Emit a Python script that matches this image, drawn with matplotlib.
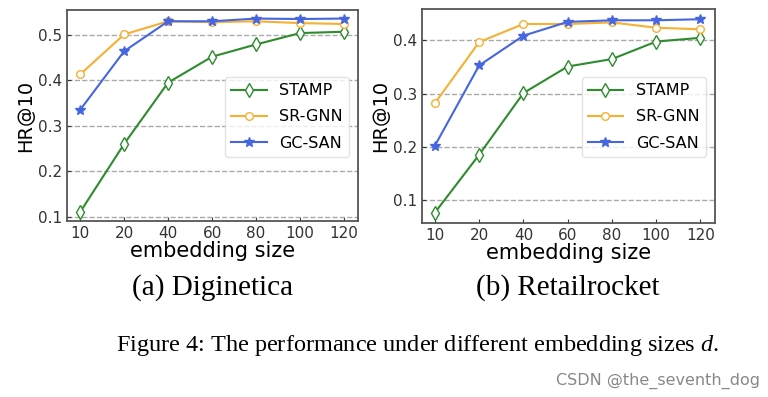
import numpy as np
import matplotlib.pyplot as plt

plt.rcParams['mathtext.fontset'] = 'custom'
plt.rcParams['mathtext.it'] = 'Liberation Serif:italic'
plt.rcParams['mathtext.rm'] = 'Liberation Serif'

sizes = ['10', '20', '40', '60', '80', '100', '120']

digi_stamp = [0.110, 0.260, 0.395, 0.452, 0.479, 0.504, 0.507]
digi_srgnn = [0.413, 0.501, 0.530, 0.528, 0.530, 0.526, 0.524]
digi_gcsan = [0.335, 0.464, 0.530, 0.530, 0.536, 0.535, 0.536]

retail_stamp = [0.076, 0.185, 0.301, 0.351, 0.365, 0.398, 0.405]
retail_srgnn = [0.282, 0.397, 0.431, 0.431, 0.434, 0.424, 0.421]
retail_gcsan = [0.202, 0.353, 0.409, 0.435, 0.438, 0.438, 0.440]

panels = [
    ([0.0872, 0.443, 0.379, 0.532], digi_stamp, digi_srgnn, digi_gcsan,
     (0.09, 0.555), [0.1, 0.2, 0.3, 0.4, 0.5]),
    ([0.549, 0.439, 0.3815, 0.538], retail_stamp, retail_srgnn, retail_gcsan,
     (0.057, 0.459), [0.1, 0.2, 0.3, 0.4]),
]
captions = ['(a) Diginetica', '(b) Retailrocket']

fig = plt.figure(figsize=(7.68, 3.97), dpi=100)
x = np.arange(len(sizes))
text_c = '#333333'

for (pos, stamp, srgnn, gcsan, ylim, yt), cap in zip(panels, captions):
    ax = fig.add_axes(pos)
    ax.plot(x, stamp, color='#2e8b2e', marker='d', markerfacecolor='white',
            markersize=7, lw=1.5, label='STAMP')
    ax.plot(x, srgnn, color='#f6b032', marker='o', markerfacecolor='white',
            markersize=5.5, lw=1.5, label='SR-GNN')
    ax.plot(x, gcsan, color='#4666e0', marker='*', markersize=7, lw=1.5,
            label='GC-SAN')
    ax.set_xlim(-0.3, 6.32)
    ax.set_ylim(*ylim)
    ax.set_xticks(x)
    ax.set_xticklabels(sizes)
    ax.set_yticks(yt)
    ax.tick_params(direction='in', labelsize=11, colors=text_c, length=3)
    ax.grid(axis='y', linestyle='--', color='#aaaaaa', lw=1)
    for s in ax.spines.values():
        s.set_color('#555555')
        s.set_linewidth(1.3)
    ax.set_xlabel('embedding size', fontsize=15, color='black', labelpad=0)
    ax.set_ylabel('HR@10', fontsize=14, color='black', labelpad=2)
    ax.legend(loc='upper right', bbox_to_anchor=(0.97, 0.683), borderaxespad=0,
              fontsize=11.5, handlelength=2.2, handletextpad=0.8,
              labelspacing=0.7, borderpad=0.4,
              edgecolor='#dddddd', fancybox=True)
    cx = pos[0] + pos[2] / 2
    fig.text(cx, 1 - 288 / 397, cap, ha='center', va='center',
             family='Liberation Serif', fontsize=21)

fig.text(0.5 * (115 + 720) / 768, 1 - 345 / 397,
         'Figure 4: The performance under different embedding sizes $\\mathit{d}$.',
         ha='center', va='center', family='Liberation Serif', fontsize=17.5)
fig.text(0.99, 1 - 381 / 397, 'CSDN @the_seventh_dog', ha='right', va='center',
         fontsize=11.5, color='#888888', family='Liberation Sans Narrow')

fig.savefig('out.png', dpi=100)
